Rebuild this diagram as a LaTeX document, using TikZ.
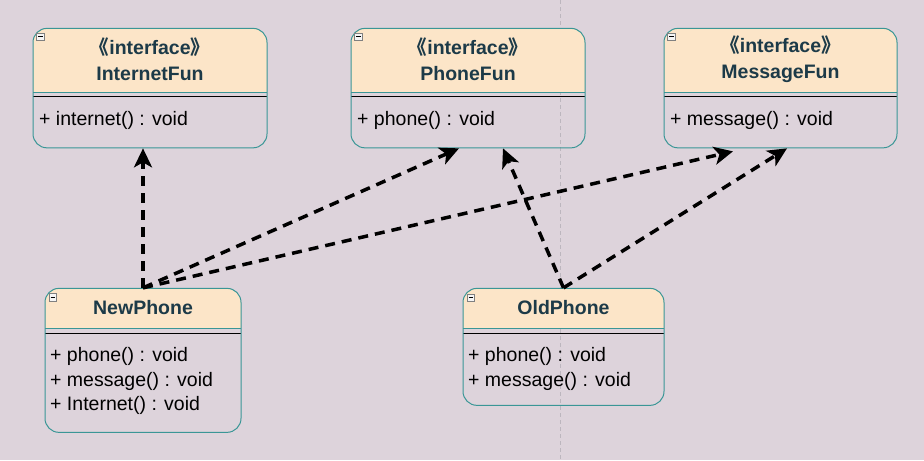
\documentclass[tikz,border=0pt]{standalone}
\usepackage{fontspec}
\setmainfont{Liberation Sans}
\newfontfamily\cjkfont{Noto Sans CJK SC}
\usepackage{tikz}
\usetikzlibrary{arrows.meta}
\definecolor{canvas}{RGB}{221,211,219}
\definecolor{headcream}{RGB}{252,229,200}
\definecolor{tealline}{RGB}{58,150,150}
\definecolor{titleink}{RGB}{28,58,72}
\definecolor{gridgray}{RGB}{188,182,190}
\tikzstyle{classbox} = [draw=tealline, line width=1pt, rounded corners=14pt, inner sep=0pt]
\tikzstyle{headline} = [draw=tealline, line width=1pt]
\tikzstyle{sepline} = [line width=1.1pt]
\tikzstyle{toggle} = [draw=gray, fill=white!92!gray, line width=0.6pt]
\tikzstyle{titletext} = [text=titleink, font=\fontsize{19.5pt}{26pt}\selectfont\bfseries, align=center, inner sep=0pt]
\tikzstyle{opstext} = [text=black, font=\fontsize{19.5pt}{24.5pt}\selectfont, align=left, anchor=west, inner sep=0pt]
\tikzstyle{realize} = [line width=3.5pt, dash pattern=on 10pt off 7pt, -{Stealth[length=19pt,width=18pt,inset=5pt]}]

\begin{document}
\begin{tikzpicture}[yscale=-1]
	\fill[canvas] (0pt,0pt) rectangle (924pt,460pt);
	\draw[gridgray, line width=0.7pt, dash pattern=on 4pt off 3pt] (560pt,0pt) -- (560pt,460pt);
	% InternetFun
	\begin{scope}
		\clip (33pt,28pt) rectangle (267pt,92pt);
		\fill[headcream, rounded corners=14pt] (33pt,28pt) rectangle (267pt,147.5pt);
	\end{scope}
	\draw[headline] (33pt,92pt) -- (267pt,92pt);
	\draw[sepline] (33pt,96pt) -- (267pt,96pt);
	\node[classbox, minimum width=234pt, minimum height=119.5pt] (internet) at (150pt,87.75pt) {};
	\draw[toggle] (36.5pt,32.5pt) rectangle (44pt,40pt);
	\draw[line width=0.8pt] (38pt,36.25pt) -- (42.5pt,36.25pt);
	\node[titletext] (internettitle) at (150pt,59pt) {{\cjkfont《}interface{\cjkfont》}\\InternetFun};
	\node[opstext] (internetops) at (39pt,120pt) {+ internet() : void};
	% PhoneFun
	\begin{scope}
		\clip (351pt,28pt) rectangle (585pt,92pt);
		\fill[headcream, rounded corners=14pt] (351pt,28pt) rectangle (585pt,147.5pt);
	\end{scope}
	\draw[headline] (351pt,92pt) -- (585pt,92pt);
	\draw[sepline] (351pt,96pt) -- (585pt,96pt);
	\node[classbox, minimum width=234pt, minimum height=119.5pt] (phone) at (468pt,87.75pt) {};
	\draw[toggle] (354.5pt,32.5pt) rectangle (362pt,40pt);
	\draw[line width=0.8pt] (356pt,36.25pt) -- (360.5pt,36.25pt);
	\node[titletext] (phonetitle) at (468pt,59pt) {{\cjkfont《}interface{\cjkfont》}\\PhoneFun};
	\node[opstext] (phoneops) at (357pt,120pt) {+ phone() : void};
	% MessageFun
	\begin{scope}
		\clip (664pt,28pt) rectangle (897pt,92pt);
		\fill[headcream, rounded corners=14pt] (664pt,28pt) rectangle (897pt,147.5pt);
	\end{scope}
	\draw[headline] (664pt,92pt) -- (897pt,92pt);
	\draw[sepline] (664pt,96pt) -- (897pt,96pt);
	\node[classbox, minimum width=233pt, minimum height=119.5pt] (message) at (780.5pt,87.75pt) {};
	\draw[toggle] (667.5pt,32.5pt) rectangle (675pt,40pt);
	\draw[line width=0.8pt] (669pt,36.25pt) -- (673.5pt,36.25pt);
	\node[titletext] (messagetitle) at (780.5pt,59pt) {{\cjkfont《}interface{\cjkfont》}\\MessageFun};
	\node[opstext] (messageops) at (670pt,120pt) {+ message() : void};
	% NewPhone
	\begin{scope}
		\clip (45pt,288pt) rectangle (241pt,328pt);
		\fill[headcream, rounded corners=14pt] (45pt,288pt) rectangle (241pt,432pt);
	\end{scope}
	\draw[headline] (45pt,328pt) -- (241pt,328pt);
	\draw[sepline] (45pt,333pt) -- (241pt,333pt);
	\node[classbox, minimum width=196pt, minimum height=144pt] (newphone) at (143pt,360pt) {};
	\draw[toggle] (49pt,293pt) rectangle (56.5pt,300.5pt);
	\draw[line width=0.8pt] (50.5pt,296.75pt) -- (55pt,296.75pt);
	\node[titletext] (newphonetitle) at (143pt,307pt) {NewPhone};
	\node[opstext] (newphoneops) at (50pt,381pt) {+ phone() : void\\+ message() : void\\+ Internet() : void};
	% OldPhone
	\begin{scope}
		\clip (463pt,288pt) rectangle (664pt,328pt);
		\fill[headcream, rounded corners=14pt] (463pt,288pt) rectangle (664pt,405pt);
	\end{scope}
	\draw[headline] (463pt,328pt) -- (664pt,328pt);
	\draw[sepline] (463pt,333pt) -- (664pt,333pt);
	\node[classbox, minimum width=201pt, minimum height=117pt] (oldphone) at (563.5pt,346.5pt) {};
	\draw[toggle] (467pt,293.5pt) rectangle (474.5pt,301pt);
	\draw[line width=0.8pt] (468.5pt,297.25pt) -- (473pt,297.25pt);
	\node[titletext] (oldphonetitle) at (563.5pt,307pt) {OldPhone};
	\node[opstext] (oldphoneops) at (468pt,368.5pt) {+ phone() : void\\+ message() : void};
	% realizations
	\coordinate (phoneinA) at (459pt,148pt);
	\coordinate (phoneinB) at (503pt,148pt);
	\coordinate (messageinA) at (733pt,151pt);
	\coordinate (messageinB) at (787pt,148pt);
	\draw[realize] (newphone.north) -- (internet.south -| newphone.north);
	\draw[realize] (newphone.north) -- (phoneinA);
	\draw[realize] (newphone.north) -- (messageinA);
	\draw[realize] (oldphone.north) -- (phoneinB);
	\draw[realize] (oldphone.north) -- (messageinB);
\end{tikzpicture}
\end{document}
